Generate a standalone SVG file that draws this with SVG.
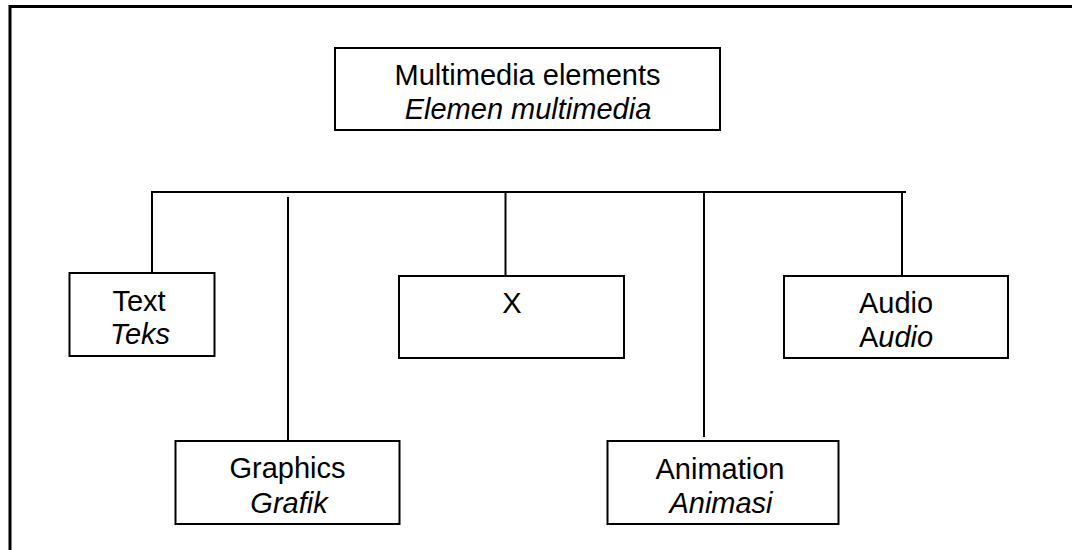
<svg xmlns="http://www.w3.org/2000/svg" width="1072" height="550" viewBox="0 0 1072 550">
  <style>
    .box { fill: #ffffff; stroke: #000000; stroke-width: 2; }
    .conn { stroke: #000000; stroke-width: 2; fill: none; }
    .frame { stroke: #000000; stroke-width: 3; fill: none; }
    text { font-family: "Liberation Sans", Arial, sans-serif; font-size: 29px; fill: #000000; text-anchor: middle; }
    .it { font-style: italic; }
  </style>
  <rect x="0" y="0" width="1072" height="550" fill="#ffffff"/>
  <g id="frame">
    <path class="frame" d="M10,550 V6.5 H1072"/>
  </g>
  <g id="connectors">
    <path class="conn" d="M151,192 H906"/>
    <path class="conn" d="M152,192 V273"/>
    <path class="conn" d="M288,197 V441"/>
    <path class="conn" d="M505.5,192 V276"/>
    <path class="conn" d="M704,192 V437"/>
    <path class="conn" d="M902,192 V276"/>
  </g>
  <g id="node-multimedia">
    <rect class="box" x="335" y="48" width="385" height="82"/>
    <text x="527.5" y="85">Multimedia elements</text>
    <text x="528" y="119" class="it">Elemen multimedia</text>
  </g>
  <g id="node-text">
    <rect class="box" x="69.5" y="273" width="145" height="83"/>
    <text x="139" y="311">Text</text>
    <text x="140" y="344" class="it">Teks</text>
  </g>
  <g id="node-graphics">
    <rect class="box" x="175.5" y="441" width="224" height="83"/>
    <text x="287.5" y="478">Graphics</text>
    <text x="289" y="512.5" class="it">Grafik</text>
  </g>
  <g id="node-x">
    <rect class="box" x="399" y="276" width="225" height="82"/>
    <text x="512" y="313">X</text>
  </g>
  <g id="node-animation">
    <rect class="box" x="607.5" y="441" width="231" height="83"/>
    <text x="720" y="479">Animation</text>
    <text x="721" y="512.5" class="it">Animasi</text>
  </g>
  <g id="node-audio">
    <rect class="box" x="784" y="276" width="224" height="82"/>
    <text x="896" y="313">Audio</text>
    <text x="896" y="346.5">A<tspan class="it">udio</tspan></text>
  </g>
</svg>
